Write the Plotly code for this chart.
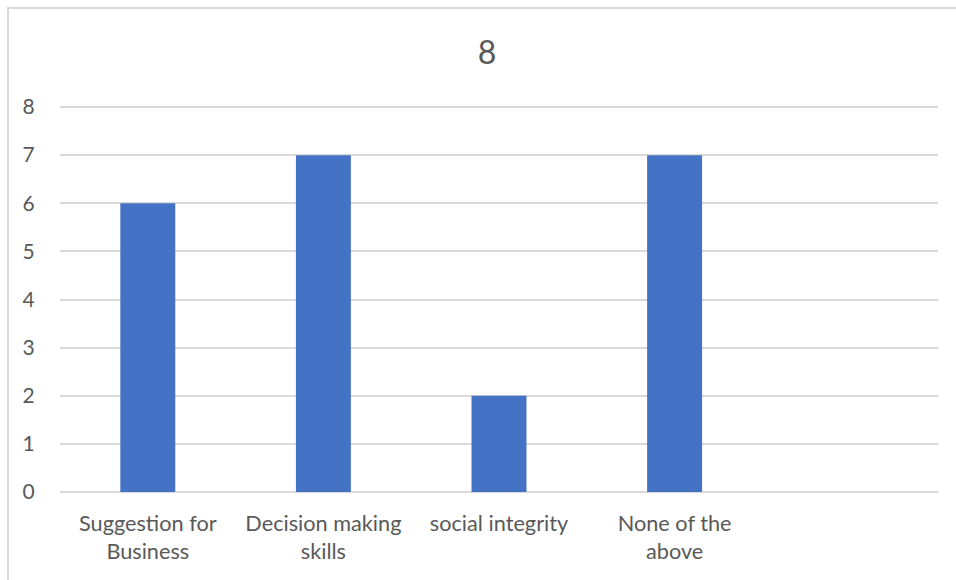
import plotly.graph_objects as go

# Survey response counts per option
categories = ["Suggestion for<br>Business", "Decision making<br>skills", "social integrity", "None of the<br>above", " "]
counts = [6, 7, 2, 7, None]
y_ticks = [0, 1, 2, 3, 4, 5, 6, 7, 8]
chart_title = "8"

W, H = 956, 580
L, R, T, B = 60, 18, 105, 88
y_top = 8.0416  # a little headroom so the top gridline at 8 is drawn

fig = go.Figure(
    go.Bar(
        x=categories,
        y=counts,
        marker=dict(color="#4472C4", line=dict(width=0)),
        hoverinfo="x+y",
    )
)

font_family = "Lato, Carlito, Calibri, sans-serif"
text_color = "#595959"
grid_color = "#d9d9d9"

fig.update_layout(
    width=W,
    height=H,
    margin=dict(l=L, r=R, t=T, b=B),
    paper_bgcolor="white",
    plot_bgcolor="white",
    bargap=0.687,
    showlegend=False,
    font=dict(family=font_family, color=text_color, size=21),
    title=dict(
        text=chart_title,
        x=487 / W,
        xanchor="center",
        y=1 - 53 / H,
        yanchor="middle",
        font=dict(size=32, color=text_color, family=font_family),
    ),
    xaxis=dict(
        type="category",
        showgrid=False,
        showline=False,
        ticks="outside",
        ticklen=12,
        tickcolor="rgba(0,0,0,0)",
        tickfont=dict(size=21.7, color=text_color),
        fixedrange=True,
    ),
    yaxis=dict(
        range=[0, y_top],
        tickvals=y_ticks,
        showgrid=True,
        gridcolor=grid_color,
        gridwidth=2,
        zeroline=True,
        zerolinecolor=grid_color,
        zerolinewidth=2,
        showline=False,
        ticks="outside",
        ticklen=20,
        tickcolor="rgba(0,0,0,0)",
        tickfont=dict(size=21, color=text_color),
        fixedrange=True,
    ),
    shapes=[
        dict(
            type="rect",
            xref="paper",
            yref="paper",
            x0=(8 - L) / (W - L - R),
            x1=(W + 20 - L) / (W - L - R),
            y0=-(H + 20 - (H - B)) / (H - T - B),
            y1=(H - 8 - B) / (H - T - B),
            line=dict(color=grid_color, width=2),
            fillcolor="rgba(0,0,0,0)",
            layer="below",
        )
    ],
)

fig.write_html("out.html")
